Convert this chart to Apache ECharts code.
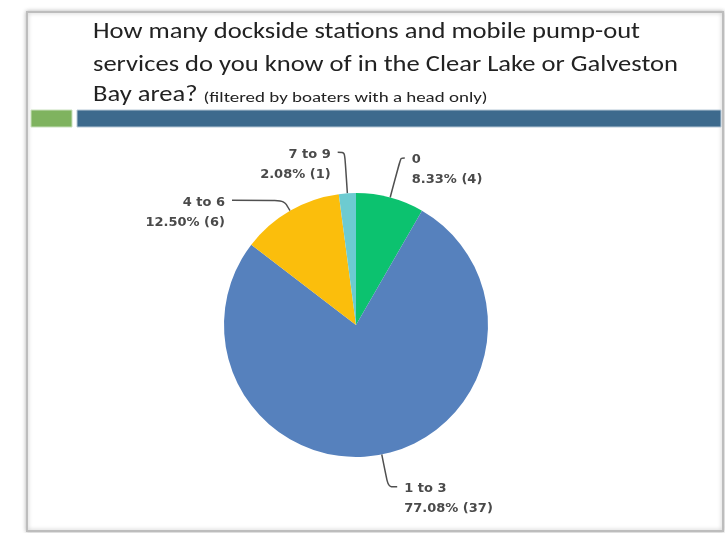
<!DOCTYPE html>
<html><head><meta charset="utf-8">
<script src="https://cdn.jsdelivr.net/npm/echarts@6/dist/echarts.min.js"></script>
<style>html,body{margin:0;padding:0;background:#fff}#c{width:725px;height:533px}</style>
</head><body><div id="c"></div>
<script>
const categories = ['0', '1 to 3', '4 to 6', '7 to 9'];
const counts = [4, 37, 6, 1];
const percents = ['8.33%', '77.08%', '12.50%', '2.08%'];
const colors = ['#0cc26f', '#5681bd', '#fbbe0c', '#6dcbd1'];
const titleLines = ['How many dockside stations and mobile pump-out', 'services do you know of in the Clear Lake or Galveston', 'Bay area?'];
const subtitle = '(filtered by boaters with a head only)';

// per-slice leader line styling (lengths only)
const lineLen = [[41, 4], [33, 9], [12, 52], [41, 7]];

const titleFont = 'Carlito, Lato, sans-serif';
const titleSize = 22, subSize = 14;
function measure(text, size) {
  const ctx = document.createElement('canvas').getContext('2d');
  ctx.font = size + 'px ' + titleFont;
  return ctx.measureText(text).width;
}
const titleScale = 547 / measure(titleLines[0], titleSize);
const line3W = measure(titleLines[2], titleSize) * titleScale;
const subScale = 284 / measure(subtitle, subSize);

const chart = echarts.init(document.getElementById('c'));
const titleBaselines = [32.5, 65, 95.5];
const graphics = [
  {type:'rect', shape:{x:27,y:12,width:696,height:519}, style:{fill:'#fff', stroke:'#bdbdbd', lineWidth:2, shadowBlur:4, shadowColor:'rgba(0,0,0,0.25)'}, z:-10},
  {type:'rect', shape:{x:31,y:110,width:41,height:17}, style:{fill:'#7fb35f', stroke:'#c9e0bd', lineWidth:1}},
  {type:'rect', shape:{x:77,y:110,width:644,height:17}, style:{fill:'#3d6a8d', stroke:'#b7c8d6', lineWidth:1}}
];
titleLines.forEach((t, i) => {
  graphics.push({type:'text', x:93, y:titleBaselines[i], scaleX:titleScale, scaleY:1,
    style:{text:t, font:titleSize + 'px ' + titleFont, fill:'#222', textAlign:'left', verticalAlign:'middle'}});
});
graphics.push({type:'text', x:93 + line3W + 6, y:98, scaleX:subScale, scaleY:1,
  style:{text:subtitle, font:subSize + 'px ' + titleFont, fill:'#222', textAlign:'left', verticalAlign:'middle'}});

chart.setOption({
  animation: false,
  backgroundColor: '#fff',
  graphic: graphics,
  series: [{
    type: 'pie',
    center: [356, 325],
    radius: [0, 132],
    startAngle: 90,
    clockwise: true,
    avoidLabelOverlap: false,
    data: categories.map((c, i) => ({
      name: c, value: counts[i], itemStyle: { color: colors[i] },
      labelLine: { length: lineLen[i][0], length2: lineLen[i][1] }
    })),
    label: {
      show: true,
      formatter: p => '{sp| }\n' + p.name + '\n' + percents[p.dataIndex] + ' (' + p.value + ')',
      fontFamily: '"DejaVu Sans", sans-serif', fontSize: 13, fontWeight: 'bold', color: '#4a4a4a', lineHeight: 20,
      alignTo: 'none', distanceToLabelLine: 7,
      rich: { sp: { fontSize: 1, lineHeight: 24 } }
    },
    labelLine: { show: true, smooth: 0.3, lineStyle: { color: '#505050', width: 1.5 } },
    itemStyle: { borderWidth: 0 },
    emphasis: { disabled: true }
  }]
});
</script></body></html>
